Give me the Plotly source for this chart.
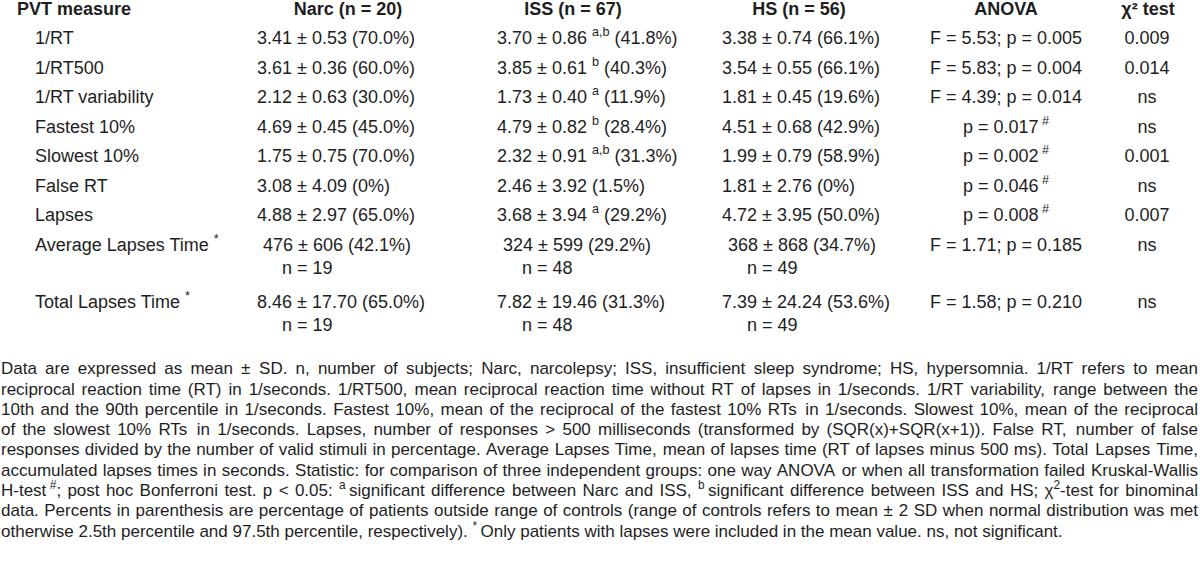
import re
import plotly.graph_objects as go

# ---------------- data ----------------
header_label = "PVT measure"
group_headers = ["Narc (n = 20)", "ISS (n = 67)", "HS (n = 56)"]
test_headers = ["ANOVA", "χ² test"]

measures = ["1/RT", "1/RT500", "1/RT variability", "Fastest 10%", "Slowest 10%",
            "False RT", "Lapses", "Average Lapses Time <sup>*</sup>",
            "Total Lapses Time <sup>*</sup>"]

narc = ["3.41 ± 0.53 (70.0%)", "3.61 ± 0.36 (60.0%)", "2.12 ± 0.63 (30.0%)",
        "4.69 ± 0.45 (45.0%)", "1.75 ± 0.75 (70.0%)", "3.08 ± 4.09 (0%)",
        "4.88 ± 2.97 (65.0%)", "476 ± 606 (42.1%)", "8.46 ± 17.70 (65.0%)"]
iss = ["3.70 ± 0.86 <sup>a,b</sup> (41.8%)", "3.85 ± 0.61 <sup>b</sup> (40.3%)",
       "1.73 ± 0.40 <sup>a</sup> (11.9%)", "4.79 ± 0.82 <sup>b</sup> (28.4%)",
       "2.32 ± 0.91 <sup>a,b</sup> (31.3%)", "2.46 ± 3.92 (1.5%)",
       "3.68 ± 3.94 <sup>a</sup> (29.2%)", "324 ± 599 (29.2%)", "7.82 ± 19.46 (31.3%)"]
hs = ["3.38 ± 0.74 (66.1%)", "3.54 ± 0.55 (66.1%)", "1.81 ± 0.45 (19.6%)",
      "4.51 ± 0.68 (42.9%)", "1.99 ± 0.79 (58.9%)", "1.81 ± 2.76 (0%)",
      "4.72 ± 3.95 (50.0%)", "368 ± 868 (34.7%)", "7.39 ± 24.24 (53.6%)"]
anova = ["F = 5.53; p = 0.005", "F = 5.83; p = 0.004", "F = 4.39; p = 0.014",
         "p = 0.017\u2009<sup>#</sup>", "p = 0.002\u2009<sup>#</sup>",
         "p = 0.046\u2009<sup>#</sup>", "p = 0.008\u2009<sup>#</sup>",
         "F = 1.71; p = 0.185", "F = 1.58; p = 0.210"]
chi2 = ["0.009", "0.014", "ns", "ns", "0.001", "ns", "0.007", "ns", "ns"]

lapse_rows = [7, 8]          # rows whose cells carry an extra "n = ..." line
narc_n = [19, 19]
iss_n = [48, 48]
hs_n = [49, 49]

footnote = [
    "Data are expressed as mean ± SD. n, number of subjects; Narc, narcolepsy; ISS, insufficient sleep syndrome; HS, hypersomnia. 1/RT refers to mean",
    "reciprocal reaction time (RT) in 1/seconds. 1/RT500, mean reciprocal reaction time without RT of lapses in 1/seconds. 1/RT variability, range between the",
    "10th and the 90th percentile in 1/seconds. Fastest 10%, mean of the reciprocal of the fastest 10% RTs in 1/seconds. Slowest 10%, mean of the reciprocal",
    "of the slowest 10% RTs in 1/seconds. Lapses, number of responses > 500 milliseconds (transformed by (SQR(x)+SQR(x+1)). False RT, number of false",
    "responses divided by the number of valid stimuli in percentage. Average Lapses Time, mean of lapses time (RT of lapses minus 500 ms). Total Lapses Time,",
    "accumulated lapses times in seconds. Statistic: for comparison of three independent groups: one way ANOVA or when all transformation failed Kruskal-Wallis",
    "H-test\u2009<sup>#</sup>; post hoc Bonferroni test. p < 0.05: <sup>a</sup>\u2009significant difference between Narc and ISS, <sup>b</sup>\u2009significant difference between ISS and HS; χ<sup>2</sup>-test for binominal",
    "data. Percents in parenthesis are percentage of patients outside range of controls (range of controls refers to mean ± 2 SD when normal distribution was met",
    "otherwise 2.5th percentile and 97.5th percentile, respectively). <sup>*</sup>\u2009Only patients with lapses were included in the mean value. ns, not significant.",
]

# ---------------- layout / style constants ----------------
W, H = 1200, 566
FONT = "Liberation Sans, Arial, Helvetica, sans-serif"
COLOR = "#1e1e1e"
TABLE_FS = 18

header_y = 10.5
row_pitch = 29.5
row_y = [39.5 + i * row_pitch for i in range(8)] + [39.5 + 7 * row_pitch + 57]
nline_dy = 23
header_label_x = 17
label_x = 35
group_left = [257, 497, 722]
group_header_cx = [348, 573, 799]
row_dx = {7: 6}                       # small indent of the "Average" row values
nline_dx = 25
anova_cx = 1006
chi_cx = 1147
test_header_cx = [1006, 1148]

foot_y0 = 370
foot_pitch = 20.3
foot_left, foot_right = 1, 1198

# Arial / Liberation Sans advance widths (1/1000 em)
AW = {' ': 278, '!': 278, '"': 355, '#': 556, '$': 556, '%': 889, '&': 667, "'": 191,
      '(': 333, ')': 333, '*': 389, '+': 584, ',': 278, '-': 333, '.': 278, '/': 278,
      ':': 278, ';': 278, '<': 584, '=': 584, '>': 584, '?': 556, '@': 1015,
      '[': 278, '\\': 278, ']': 278, '^': 469, '_': 556, '`': 333,
      '±': 584, 'χ': 500, '\u2009': 200, '²': 333}
for c in "0123456789":
    AW[c] = 556
AW.update(dict(zip("ABCDEFGHIJKLMNOPQRSTUVWXYZ",
                   [667, 667, 722, 722, 667, 611, 778, 722, 278, 500, 667, 556, 833,
                    722, 778, 667, 778, 722, 667, 611, 722, 667, 944, 667, 667, 611])))
AW.update(dict(zip("abcdefghijklmnopqrstuvwxyz",
                   [556, 556, 500, 556, 556, 278, 556, 556, 222, 222, 500, 222, 833,
                    556, 556, 556, 556, 333, 500, 278, 556, 500, 722, 500, 500, 500])))


def text_width(s, size):
    total = 0.0
    for part in re.split(r"(<sup>.*?</sup>)", s):
        if part.startswith("<sup>"):
            inner = part[5:-6]
            total += sum(AW.get(c, 556) for c in inner) * 0.7
        else:
            total += sum(AW.get(c, 556) for c in part)
    return total * size / 1000.0


# footnote font size: tightest justified line fits with ordinary spaces
span = foot_right - foot_left
nat = max(text_width(l, 1.0) for l in footnote[:-1])
FOOT_FS = round(0.99 * span / nat, 2)
FOOT_FS = min(max(FOOT_FS, 14), 18)

fig = go.Figure()


def add_text(xs, ys, texts, pos, size=TABLE_FS):
    fig.add_trace(go.Scatter(
        x=xs, y=ys, text=texts, mode="text", textposition=pos,
        textfont=dict(family=FONT, size=size, color=COLOR),
        hoverinfo="skip", showlegend=False, cliponaxis=False))


# header row
add_text([header_label_x], [header_y], ["<b>" + header_label + "</b>"], "middle right")
add_text(group_header_cx + test_header_cx, [header_y] * 5,
         ["<b>" + h + "</b>" for h in group_headers + test_headers], "middle center")

# row labels
add_text([label_x] * len(measures), row_y, measures, "middle right")

# group columns
for left, col, ns in zip(group_left, [narc, iss, hs], [narc_n, iss_n, hs_n]):
    add_text([left + row_dx.get(i, 0) for i in range(len(col))], row_y, col, "middle right")
    add_text([left + nline_dx] * len(lapse_rows), [row_y[r] + nline_dy for r in lapse_rows],
             ["n = %d" % n for n in ns], "middle right")

# test columns
add_text([anova_cx] * len(anova), row_y, anova, "middle center")
add_text([chi_cx] * len(chi2), row_y, chi2, "middle center")

# footnote, justified (last word of each full line anchored at the right edge)
space_w = AW[' '] * FOOT_FS / 1000.0
for li, line in enumerate(footnote):
    words = line.split(" ")
    widths = [text_width(w, FOOT_FS) for w in words]
    y = foot_y0 + li * foot_pitch
    justify = li < len(footnote) - 1 and len(words) > 1
    gap = (span - sum(widths)) / (len(words) - 1) if justify else space_w
    xs, x = [], foot_left
    for w in widths:
        xs.append(x)
        x += w + gap
    if justify:
        add_text(xs[:-1], [y] * (len(words) - 1), words[:-1], "middle right", FOOT_FS)
        add_text([foot_right], [y], [words[-1]], "middle left", FOOT_FS)
    else:
        add_text(xs, [y] * len(words), words, "middle right", FOOT_FS)

fig.update_layout(
    width=W, height=H,
    margin=dict(l=0, r=0, t=0, b=0),
    paper_bgcolor="white", plot_bgcolor="white",
    xaxis=dict(range=[0, W], visible=False, fixedrange=True),
    yaxis=dict(range=[H, 0], visible=False, fixedrange=True),
    hovermode=False,
)

fig.write_html(
    "out.html",
    config={"displayModeBar": False, "staticPlot": True},
    post_script="document.body.style.margin='0px';document.body.style.padding='0px';"
                "document.documentElement.style.overflow='hidden';",
)
